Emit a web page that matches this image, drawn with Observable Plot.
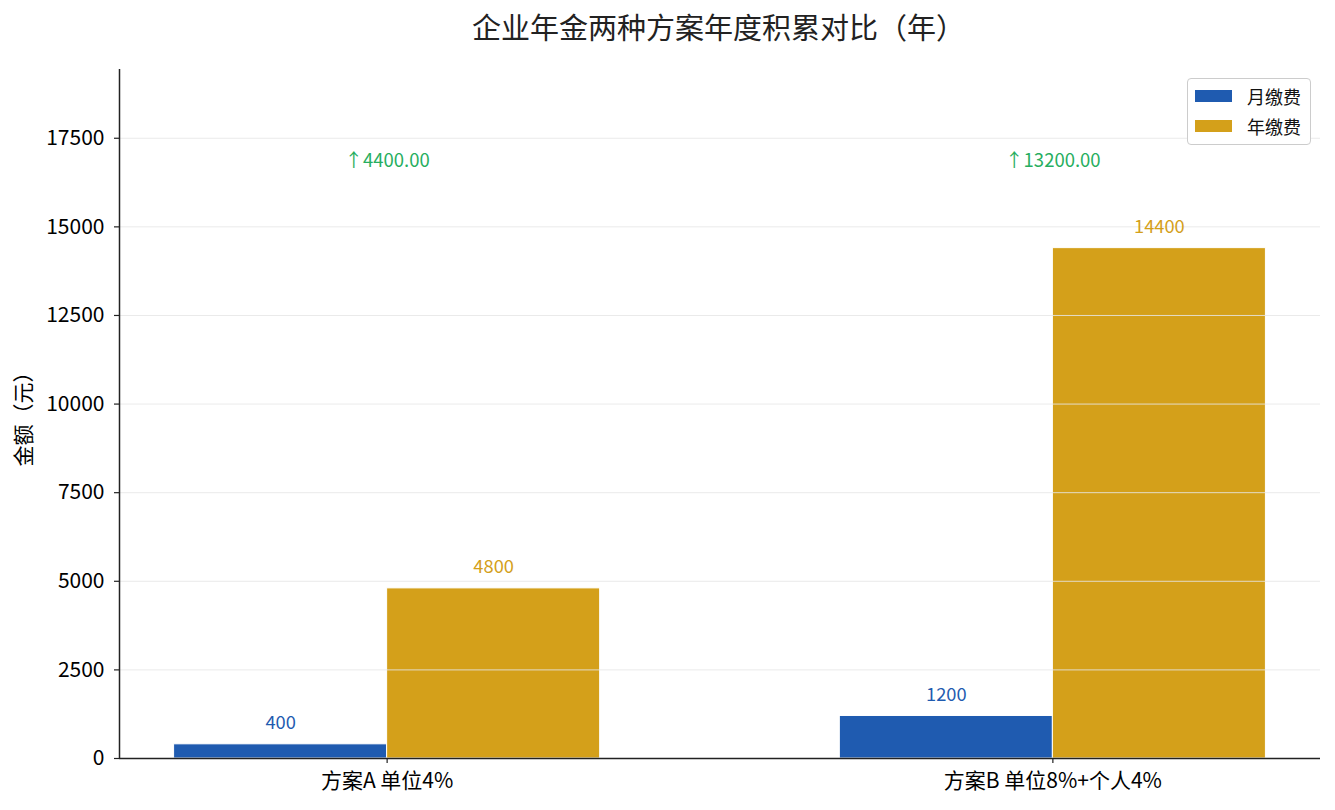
<!DOCTYPE html>
<html>
<head>
<meta charset="utf-8">
<script src="https://cdn.jsdelivr.net/npm/d3@7"></script>
<script src="https://cdn.jsdelivr.net/npm/@observablehq/plot@0.6"></script>
<style>
  body { margin: 0; background: #fff; font-family: "Noto Sans CJK SC", "Noto Sans", sans-serif; }
  #wrap { position: relative; width: 1335px; height: 810px; }
  #title { position: absolute; left: 0; width: 1437px; top: 5px; text-align: center; font-size: 29px; color: #222; }
  #legend { position: absolute; left: 1187px; top: 78px; width: 124px; height: 67px; border: 1px solid #ccc; border-radius: 4px; background: #fff; font-size: 18px; color: #111; box-sizing: border-box; }
  .item { position: absolute; left: 7px; height: 20px; display: flex; align-items: center; }
  .sw { width: 37px; height: 12px; margin-right: 15px; }
</style>
</head>
<body>
<div id="wrap">
  <div id="chart"></div>
  <div id="title">企业年金两种方案年度积累对比（年）</div>
  <div id="legend"></div>
</div>
<script>
const categories = ["方案A 单位4%", "方案B 单位8%+个人4%"];
const monthly = [400, 1200];
const annual = [4800, 14400];
const diffs = [4400, 13200];
const seriesNames = ["月缴费", "年缴费"];
const colors = ["#1f5bb0", "#d4a01a"];
const yTicks = [0, 2500, 5000, 7500, 10000, 12500, 15000, 17500];

const barW = 0.32;
const rows = [];
categories.forEach((c, i) => {
  rows.push({cat: c, idx: i, series: seriesNames[0], value: monthly[i], x1: i - barW, x2: i, color: colors[0]});
  rows.push({cat: c, idx: i, series: seriesNames[1], value: annual[i], x1: i, x2: i + barW, color: colors[1]});
});
const ann = categories.map((c, i) => ({idx: i, text: "↑" + diffs[i].toFixed(2), y: 16850}));

const font = '"Noto Sans CJK SC", "Noto Sans", sans-serif';
const chart = Plot.plot({
  width: 1335,
  height: 810,
  marginLeft: 119,
  marginRight: 15,
  marginTop: 69,
  marginBottom: 52,
  style: {fontFamily: font, background: "white", color: "#111"},
  x: {domain: [-0.402, 1.402], axis: null},
  y: {domain: [0, 19440], axis: null},
  marks: [
    Plot.rectY(rows, {x1: "x1", x2: "x2", y1: 0, y2: "value", fill: "color", stroke: "white", strokeWidth: 1}),
    Plot.gridY(yTicks, {stroke: "#e6e6e6", strokeOpacity: 0.85, strokeWidth: 1}),
    Plot.text(rows, {x: d => (d.x1 + d.x2) / 2, y: "value", text: d => String(d.value), fill: "color", dy: -21, fontSize: 18.3}),
    Plot.text(ann, {x: "idx", y: "y", text: "text", fill: "#27ae60", fontSize: 18.5}),
    Plot.axisY(yTicks, {tickSize: 5, tickPadding: 10, fontSize: 21, stroke: "#222", fill: "#000", strokeWidth: 1.2,
      label: "金额（元）", labelAnchor: "center", labelArrow: "none", labelOffset: 103, tickFormat: d => String(d)}),
    Plot.axisX([0, 1], {tickSize: 5, tickPadding: 10, fontSize: 21, stroke: "#222", fill: "#000", strokeWidth: 1.2,
      tickFormat: i => categories[i], label: null}),
    Plot.ruleX([-0.402], {stroke: "#222", strokeWidth: 1.5}),
    Plot.ruleY([0], {stroke: "#222", strokeWidth: 1.5})
  ]
});
document.getElementById("chart").appendChild(chart);

const legend = document.getElementById("legend");
seriesNames.forEach((n, i) => {
  const it = document.createElement("div");
  it.className = "item";
  it.style.top = (7 + i * 30) + "px";
  it.innerHTML = `<span class="sw" style="background:${colors[i]}"></span><span>${n}</span>`;
  legend.appendChild(it);
});
</script>
</body>
</html>
